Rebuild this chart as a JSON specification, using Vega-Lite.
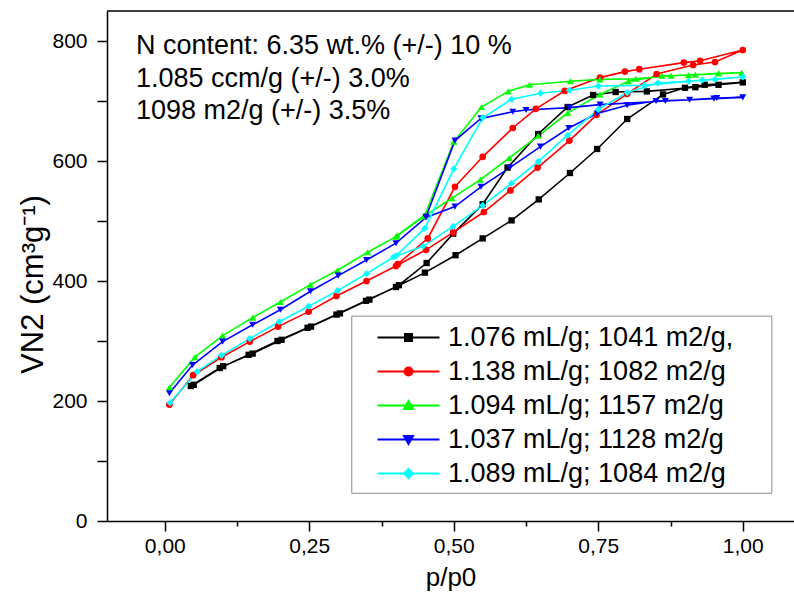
{
  "$schema": "https://vega.github.io/schema/vega-lite/v6.json",
  "width": 687,
  "height": 510,
  "autosize": {"type": "none"},
  "padding": {"left": 107, "top": 11, "right": 0, "bottom": 71},
  "background": "white",
  "config": {"view": {"stroke": null}, "font": "Liberation Sans"},
  "datasets": {
    "iso": [
      {"s": "1.076 mL/g; 1041 m2/g,", "i": 1, "p": 0.045, "v": 225},
      {"s": "1.076 mL/g; 1041 m2/g,", "i": 2, "p": 0.095, "v": 255},
      {"s": "1.076 mL/g; 1041 m2/g,", "i": 3, "p": 0.145, "v": 277},
      {"s": "1.076 mL/g; 1041 m2/g,", "i": 4, "p": 0.195, "v": 300},
      {"s": "1.076 mL/g; 1041 m2/g,", "i": 5, "p": 0.247, "v": 322},
      {"s": "1.076 mL/g; 1041 m2/g,", "i": 6, "p": 0.297, "v": 344},
      {"s": "1.076 mL/g; 1041 m2/g,", "i": 7, "p": 0.348, "v": 367},
      {"s": "1.076 mL/g; 1041 m2/g,", "i": 8, "p": 0.4, "v": 390},
      {"s": "1.076 mL/g; 1041 m2/g,", "i": 9, "p": 0.45, "v": 414},
      {"s": "1.076 mL/g; 1041 m2/g,", "i": 10, "p": 0.503, "v": 443},
      {"s": "1.076 mL/g; 1041 m2/g,", "i": 11, "p": 0.55, "v": 471},
      {"s": "1.076 mL/g; 1041 m2/g,", "i": 12, "p": 0.6, "v": 501},
      {"s": "1.076 mL/g; 1041 m2/g,", "i": 13, "p": 0.647, "v": 536},
      {"s": "1.076 mL/g; 1041 m2/g,", "i": 14, "p": 0.701, "v": 580},
      {"s": "1.076 mL/g; 1041 m2/g,", "i": 15, "p": 0.748, "v": 620},
      {"s": "1.076 mL/g; 1041 m2/g,", "i": 16, "p": 0.8, "v": 670},
      {"s": "1.076 mL/g; 1041 m2/g,", "i": 17, "p": 0.862, "v": 711},
      {"s": "1.076 mL/g; 1041 m2/g,", "i": 18, "p": 0.9, "v": 722},
      {"s": "1.076 mL/g; 1041 m2/g,", "i": 19, "p": 0.934, "v": 727},
      {"s": "1.076 mL/g; 1041 m2/g,", "i": 20, "p": 1.0, "v": 731},
      {"s": "1.076 mL/g; 1041 m2/g,", "i": 21, "p": 0.958, "v": 727},
      {"s": "1.076 mL/g; 1041 m2/g,", "i": 22, "p": 0.918, "v": 723},
      {"s": "1.076 mL/g; 1041 m2/g,", "i": 23, "p": 0.834, "v": 716},
      {"s": "1.076 mL/g; 1041 m2/g,", "i": 24, "p": 0.78, "v": 715},
      {"s": "1.076 mL/g; 1041 m2/g,", "i": 25, "p": 0.741, "v": 710},
      {"s": "1.076 mL/g; 1041 m2/g,", "i": 26, "p": 0.697, "v": 690},
      {"s": "1.076 mL/g; 1041 m2/g,", "i": 27, "p": 0.646, "v": 645},
      {"s": "1.076 mL/g; 1041 m2/g,", "i": 28, "p": 0.593, "v": 589},
      {"s": "1.076 mL/g; 1041 m2/g,", "i": 29, "p": 0.55, "v": 528},
      {"s": "1.076 mL/g; 1041 m2/g,", "i": 30, "p": 0.499, "v": 479},
      {"s": "1.076 mL/g; 1041 m2/g,", "i": 31, "p": 0.453, "v": 430},
      {"s": "1.076 mL/g; 1041 m2/g,", "i": 32, "p": 0.405, "v": 393},
      {"s": "1.076 mL/g; 1041 m2/g,", "i": 33, "p": 0.354, "v": 369},
      {"s": "1.076 mL/g; 1041 m2/g,", "i": 34, "p": 0.303, "v": 346},
      {"s": "1.076 mL/g; 1041 m2/g,", "i": 35, "p": 0.253, "v": 324},
      {"s": "1.076 mL/g; 1041 m2/g,", "i": 36, "p": 0.202, "v": 302},
      {"s": "1.076 mL/g; 1041 m2/g,", "i": 37, "p": 0.152, "v": 279},
      {"s": "1.076 mL/g; 1041 m2/g,", "i": 38, "p": 0.101, "v": 258},
      {"s": "1.076 mL/g; 1041 m2/g,", "i": 39, "p": 0.05, "v": 227},

      {"s": "1.138 mL/g; 1082 m2/g", "i": 1, "p": 0.008, "v": 194},
      {"s": "1.138 mL/g; 1082 m2/g", "i": 2, "p": 0.049, "v": 243},
      {"s": "1.138 mL/g; 1082 m2/g", "i": 3, "p": 0.098, "v": 273},
      {"s": "1.138 mL/g; 1082 m2/g", "i": 4, "p": 0.147, "v": 299},
      {"s": "1.138 mL/g; 1082 m2/g", "i": 5, "p": 0.196, "v": 324},
      {"s": "1.138 mL/g; 1082 m2/g", "i": 6, "p": 0.249, "v": 349},
      {"s": "1.138 mL/g; 1082 m2/g", "i": 7, "p": 0.297, "v": 375},
      {"s": "1.138 mL/g; 1082 m2/g", "i": 8, "p": 0.349, "v": 400},
      {"s": "1.138 mL/g; 1082 m2/g", "i": 9, "p": 0.4, "v": 425},
      {"s": "1.138 mL/g; 1082 m2/g", "i": 10, "p": 0.452, "v": 452},
      {"s": "1.138 mL/g; 1082 m2/g", "i": 11, "p": 0.499, "v": 481},
      {"s": "1.138 mL/g; 1082 m2/g", "i": 12, "p": 0.552, "v": 515},
      {"s": "1.138 mL/g; 1082 m2/g", "i": 13, "p": 0.598, "v": 551},
      {"s": "1.138 mL/g; 1082 m2/g", "i": 14, "p": 0.645, "v": 589},
      {"s": "1.138 mL/g; 1082 m2/g", "i": 15, "p": 0.7, "v": 634},
      {"s": "1.138 mL/g; 1082 m2/g", "i": 16, "p": 0.747, "v": 677},
      {"s": "1.138 mL/g; 1082 m2/g", "i": 17, "p": 0.8, "v": 712},
      {"s": "1.138 mL/g; 1082 m2/g", "i": 18, "p": 0.851, "v": 745},
      {"s": "1.138 mL/g; 1082 m2/g", "i": 19, "p": 0.914, "v": 760},
      {"s": "1.138 mL/g; 1082 m2/g", "i": 20, "p": 0.952, "v": 765},
      {"s": "1.138 mL/g; 1082 m2/g", "i": 21, "p": 1.0, "v": 785},
      {"s": "1.138 mL/g; 1082 m2/g", "i": 22, "p": 0.926, "v": 767},
      {"s": "1.138 mL/g; 1082 m2/g", "i": 23, "p": 0.898, "v": 764},
      {"s": "1.138 mL/g; 1082 m2/g", "i": 24, "p": 0.821, "v": 753},
      {"s": "1.138 mL/g; 1082 m2/g", "i": 25, "p": 0.796, "v": 749},
      {"s": "1.138 mL/g; 1082 m2/g", "i": 26, "p": 0.753, "v": 739},
      {"s": "1.138 mL/g; 1082 m2/g", "i": 27, "p": 0.692, "v": 717},
      {"s": "1.138 mL/g; 1082 m2/g", "i": 28, "p": 0.642, "v": 687},
      {"s": "1.138 mL/g; 1082 m2/g", "i": 29, "p": 0.602, "v": 655},
      {"s": "1.138 mL/g; 1082 m2/g", "i": 30, "p": 0.55, "v": 607},
      {"s": "1.138 mL/g; 1082 m2/g", "i": 31, "p": 0.502, "v": 557},
      {"s": "1.138 mL/g; 1082 m2/g", "i": 32, "p": 0.455, "v": 471},
      {"s": "1.138 mL/g; 1082 m2/g", "i": 33, "p": 0.403, "v": 428},

      {"s": "1.094 mL/g; 1157 m2/g", "i": 1, "p": 0.008, "v": 223},
      {"s": "1.094 mL/g; 1157 m2/g", "i": 2, "p": 0.052, "v": 273},
      {"s": "1.094 mL/g; 1157 m2/g", "i": 3, "p": 0.1, "v": 309},
      {"s": "1.094 mL/g; 1157 m2/g", "i": 4, "p": 0.152, "v": 339},
      {"s": "1.094 mL/g; 1157 m2/g", "i": 5, "p": 0.2, "v": 365},
      {"s": "1.094 mL/g; 1157 m2/g", "i": 6, "p": 0.252, "v": 394},
      {"s": "1.094 mL/g; 1157 m2/g", "i": 7, "p": 0.299, "v": 418},
      {"s": "1.094 mL/g; 1157 m2/g", "i": 8, "p": 0.351, "v": 448},
      {"s": "1.094 mL/g; 1157 m2/g", "i": 9, "p": 0.4, "v": 474},
      {"s": "1.094 mL/g; 1157 m2/g", "i": 10, "p": 0.449, "v": 508},
      {"s": "1.094 mL/g; 1157 m2/g", "i": 11, "p": 0.497, "v": 538},
      {"s": "1.094 mL/g; 1157 m2/g", "i": 12, "p": 0.546, "v": 569},
      {"s": "1.094 mL/g; 1157 m2/g", "i": 13, "p": 0.596, "v": 605},
      {"s": "1.094 mL/g; 1157 m2/g", "i": 14, "p": 0.646, "v": 642},
      {"s": "1.094 mL/g; 1157 m2/g", "i": 15, "p": 0.697, "v": 680},
      {"s": "1.094 mL/g; 1157 m2/g", "i": 16, "p": 0.753, "v": 711},
      {"s": "1.094 mL/g; 1157 m2/g", "i": 17, "p": 0.802, "v": 733},
      {"s": "1.094 mL/g; 1157 m2/g", "i": 18, "p": 0.86, "v": 742},
      {"s": "1.094 mL/g; 1157 m2/g", "i": 19, "p": 0.906, "v": 743},
      {"s": "1.094 mL/g; 1157 m2/g", "i": 20, "p": 0.958, "v": 746},
      {"s": "1.094 mL/g; 1157 m2/g", "i": 21, "p": 0.998, "v": 747},
      {"s": "1.094 mL/g; 1157 m2/g", "i": 22, "p": 0.918, "v": 744},
      {"s": "1.094 mL/g; 1157 m2/g", "i": 23, "p": 0.876, "v": 742},
      {"s": "1.094 mL/g; 1157 m2/g", "i": 24, "p": 0.815, "v": 737},
      {"s": "1.094 mL/g; 1157 m2/g", "i": 25, "p": 0.753, "v": 736},
      {"s": "1.094 mL/g; 1157 m2/g", "i": 26, "p": 0.702, "v": 733},
      {"s": "1.094 mL/g; 1157 m2/g", "i": 27, "p": 0.631, "v": 727},
      {"s": "1.094 mL/g; 1157 m2/g", "i": 28, "p": 0.594, "v": 716},
      {"s": "1.094 mL/g; 1157 m2/g", "i": 29, "p": 0.548, "v": 690},
      {"s": "1.094 mL/g; 1157 m2/g", "i": 30, "p": 0.5, "v": 632},
      {"s": "1.094 mL/g; 1157 m2/g", "i": 31, "p": 0.45, "v": 510},
      {"s": "1.094 mL/g; 1157 m2/g", "i": 32, "p": 0.402, "v": 476},

      {"s": "1.037 mL/g; 1128 m2/g", "i": 1, "p": 0.008, "v": 213},
      {"s": "1.037 mL/g; 1128 m2/g", "i": 2, "p": 0.048, "v": 260},
      {"s": "1.037 mL/g; 1128 m2/g", "i": 3, "p": 0.1, "v": 299},
      {"s": "1.037 mL/g; 1128 m2/g", "i": 4, "p": 0.152, "v": 327},
      {"s": "1.037 mL/g; 1128 m2/g", "i": 5, "p": 0.2, "v": 352},
      {"s": "1.037 mL/g; 1128 m2/g", "i": 6, "p": 0.252, "v": 383},
      {"s": "1.037 mL/g; 1128 m2/g", "i": 7, "p": 0.3, "v": 409},
      {"s": "1.037 mL/g; 1128 m2/g", "i": 8, "p": 0.349, "v": 435},
      {"s": "1.037 mL/g; 1128 m2/g", "i": 9, "p": 0.4, "v": 463},
      {"s": "1.037 mL/g; 1128 m2/g", "i": 10, "p": 0.452, "v": 506},
      {"s": "1.037 mL/g; 1128 m2/g", "i": 11, "p": 0.502, "v": 524},
      {"s": "1.037 mL/g; 1128 m2/g", "i": 12, "p": 0.547, "v": 557},
      {"s": "1.037 mL/g; 1128 m2/g", "i": 13, "p": 0.597, "v": 589},
      {"s": "1.037 mL/g; 1128 m2/g", "i": 14, "p": 0.65, "v": 624},
      {"s": "1.037 mL/g; 1128 m2/g", "i": 15, "p": 0.699, "v": 655},
      {"s": "1.037 mL/g; 1128 m2/g", "i": 16, "p": 0.748, "v": 679},
      {"s": "1.037 mL/g; 1128 m2/g", "i": 17, "p": 0.8, "v": 693},
      {"s": "1.037 mL/g; 1128 m2/g", "i": 18, "p": 0.85, "v": 700},
      {"s": "1.037 mL/g; 1128 m2/g", "i": 19, "p": 0.908, "v": 702},
      {"s": "1.037 mL/g; 1128 m2/g", "i": 20, "p": 0.955, "v": 705},
      {"s": "1.037 mL/g; 1128 m2/g", "i": 21, "p": 1.0, "v": 706},
      {"s": "1.037 mL/g; 1128 m2/g", "i": 22, "p": 0.95, "v": 704},
      {"s": "1.037 mL/g; 1128 m2/g", "i": 23, "p": 0.866, "v": 700},
      {"s": "1.037 mL/g; 1128 m2/g", "i": 24, "p": 0.753, "v": 694},
      {"s": "1.037 mL/g; 1128 m2/g", "i": 25, "p": 0.7, "v": 689},
      {"s": "1.037 mL/g; 1128 m2/g", "i": 26, "p": 0.625, "v": 685},
      {"s": "1.037 mL/g; 1128 m2/g", "i": 27, "p": 0.602, "v": 682},
      {"s": "1.037 mL/g; 1128 m2/g", "i": 28, "p": 0.547, "v": 671},
      {"s": "1.037 mL/g; 1128 m2/g", "i": 29, "p": 0.502, "v": 634},
      {"s": "1.037 mL/g; 1128 m2/g", "i": 30, "p": 0.452, "v": 507},

      {"s": "1.089 mL/g; 1084 m2/g", "i": 1, "p": 0.009, "v": 197},
      {"s": "1.089 mL/g; 1084 m2/g", "i": 2, "p": 0.056, "v": 249},
      {"s": "1.089 mL/g; 1084 m2/g", "i": 3, "p": 0.098, "v": 276},
      {"s": "1.089 mL/g; 1084 m2/g", "i": 4, "p": 0.147, "v": 304},
      {"s": "1.089 mL/g; 1084 m2/g", "i": 5, "p": 0.198, "v": 332},
      {"s": "1.089 mL/g; 1084 m2/g", "i": 6, "p": 0.249, "v": 358},
      {"s": "1.089 mL/g; 1084 m2/g", "i": 7, "p": 0.299, "v": 384},
      {"s": "1.089 mL/g; 1084 m2/g", "i": 8, "p": 0.349, "v": 412},
      {"s": "1.089 mL/g; 1084 m2/g", "i": 9, "p": 0.396, "v": 440},
      {"s": "1.089 mL/g; 1084 m2/g", "i": 10, "p": 0.447, "v": 458},
      {"s": "1.089 mL/g; 1084 m2/g", "i": 11, "p": 0.499, "v": 491},
      {"s": "1.089 mL/g; 1084 m2/g", "i": 12, "p": 0.55, "v": 526},
      {"s": "1.089 mL/g; 1084 m2/g", "i": 13, "p": 0.6, "v": 563},
      {"s": "1.089 mL/g; 1084 m2/g", "i": 14, "p": 0.646, "v": 599},
      {"s": "1.089 mL/g; 1084 m2/g", "i": 15, "p": 0.697, "v": 643},
      {"s": "1.089 mL/g; 1084 m2/g", "i": 16, "p": 0.75, "v": 686},
      {"s": "1.089 mL/g; 1084 m2/g", "i": 17, "p": 0.8, "v": 714},
      {"s": "1.089 mL/g; 1084 m2/g", "i": 18, "p": 0.853, "v": 730},
      {"s": "1.089 mL/g; 1084 m2/g", "i": 19, "p": 0.906, "v": 733},
      {"s": "1.089 mL/g; 1084 m2/g", "i": 20, "p": 0.952, "v": 736},
      {"s": "1.089 mL/g; 1084 m2/g", "i": 21, "p": 1.0, "v": 740},
      {"s": "1.089 mL/g; 1084 m2/g", "i": 22, "p": 0.93, "v": 735},
      {"s": "1.089 mL/g; 1084 m2/g", "i": 23, "p": 0.83, "v": 726},
      {"s": "1.089 mL/g; 1084 m2/g", "i": 24, "p": 0.75, "v": 725},
      {"s": "1.089 mL/g; 1084 m2/g", "i": 25, "p": 0.7, "v": 718},
      {"s": "1.089 mL/g; 1084 m2/g", "i": 26, "p": 0.65, "v": 713},
      {"s": "1.089 mL/g; 1084 m2/g", "i": 27, "p": 0.6, "v": 703},
      {"s": "1.089 mL/g; 1084 m2/g", "i": 28, "p": 0.55, "v": 672},
      {"s": "1.089 mL/g; 1084 m2/g", "i": 29, "p": 0.5, "v": 587},
      {"s": "1.089 mL/g; 1084 m2/g", "i": 30, "p": 0.45, "v": 488},
      {"s": "1.089 mL/g; 1084 m2/g", "i": 31, "p": 0.4, "v": 442}
    ]
  },
  "layer": [
    {
      "data": {"values": [{}]},
      "mark": {"type": "rect", "fill": "white", "stroke": "#8a8a8a", "strokeWidth": 1},
      "encoding": {
        "x": {"datum": 0.3235, "type": "quantitative"},
        "x2": {"datum": 1.0502},
        "y": {"datum": 341.4, "type": "quantitative"},
        "y2": {"datum": 46.2}
      }
    },
    {
      "data": {"values": [{}]},
      "mark": {"type": "rule", "color": "black", "strokeWidth": 1.5},
      "encoding": {"y": {"datum": 850, "type": "quantitative"}}
    },
    {
      "data": {"name": "iso"},
      "mark": {"type": "line", "strokeWidth": 1.6, "clip": true},
      "encoding": {
        "x": {
          "field": "p", "type": "quantitative",
          "scale": {"domain": [-0.1, 1.0886], "nice": false, "zero": false},
          "axis": {
            "title": "p/p0",
            "values": [0, 0.125, 0.25, 0.375, 0.5, 0.625, 0.75, 0.875, 1.0],
            "labelExpr": "abs(datum.value*4 - round(datum.value*4)) < 0.01 ? replace(format(datum.value, '.2f'), '.', ',') : ''",
            "tickSize": {"condition": {"test": "abs(datum.value*4 - round(datum.value*4)) < 0.01", "value": 10}, "value": 5},
            "grid": false,
            "domainColor": "black", "domainWidth": 1.5,
            "tickColor": "black", "tickWidth": 1.5,
            "labelFont": "Liberation Sans", "labelFontSize": 21, "labelColor": "black", "labelPadding": 4,
            "labelFlush": false, "labelOverlap": false,
            "titleFont": "Liberation Sans", "titleFontSize": 26, "titleFontWeight": "normal", "titleColor": "black", "titlePadding": 8
          }
        },
        "y": {
          "field": "v", "type": "quantitative",
          "scale": {"domain": [0, 850], "nice": false},
          "axis": {
            "title": "VN2 (cm³g⁻¹)",
            "values": [0, 100, 200, 300, 400, 500, 600, 700, 800],
            "labelExpr": "datum.value % 200 == 0 ? datum.label : ''",
            "tickSize": 10,
            "grid": false,
            "domainColor": "black", "domainWidth": 1.5,
            "tickColor": "black", "tickWidth": 1.5,
            "labelFont": "Liberation Sans", "labelFontSize": 21, "labelColor": "black", "labelPadding": 10,
            "labelFlush": false, "labelOverlap": false,
            "titleFont": "Liberation Sans", "titleFontSize": 31, "titleFontWeight": "normal", "titleColor": "black", "titlePadding": 2,
            "titleY": 273
          }
        },
        "color": {
          "field": "s", "type": "nominal",
          "scale": {
            "domain": ["1.076 mL/g; 1041 m2/g,", "1.138 mL/g; 1082 m2/g", "1.094 mL/g; 1157 m2/g", "1.037 mL/g; 1128 m2/g", "1.089 mL/g; 1084 m2/g"],
            "range": ["#000000", "#ff0000", "#00ff00", "#0000ff", "#00ffff"]
          },
          "legend": {
            "orient": "none", "legendX": 245, "legendY": 305,
            "title": null,
            "fillColor": null, "strokeColor": null,
            "padding": 8,
            "symbolOffset": 35,
            "labelOffset": 26,
            "rowPadding": 6,
            "symbolSize": 100,
            "symbolStrokeWidth": 2,
            "labelFont": "Liberation Sans", "labelFontSize": 27, "labelColor": "black", "labelLimit": 600,
            "encode": {
              "symbols": {
                "update": {
                  "shape": {"signal": "datum.index == 0 ? 'M-6.2,0H6.2M-0.7,-0.7H0.7V0.7H-0.7Z' : datum.index == 1 ? 'M-6.2,0H6.2M-0.8,0A0.8,0.8,0,1,0,0.8,0A0.8,0.8,0,1,0,-0.8,0Z' : datum.index == 2 ? 'M-6.2,0H6.2M0,-0.9L0.9,0.7L-0.9,0.7Z' : datum.index == 3 ? 'M-6.2,0H6.2M0,0.9L0.9,-0.7L-0.9,-0.7Z' : 'M-6.2,0H6.2M0,-0.9L0.9,0L0,0.9L-0.9,0Z'"},
                  "stroke": {"signal": "['#000000','#ff0000','#00ff00','#0000ff','#00ffff'][datum.index]"},
                  "fill": {"signal": "['#000000','#ff0000','#00ff00','#0000ff','#00ffff'][datum.index]"},
                  "strokeWidth": {"value": 2},
                  "opacity": {"value": 1}
                }
              }
            }
          }
        },
        "order": {"field": "i", "type": "quantitative"}
      }
    },
    {
      "data": {"name": "iso"},
      "transform": [{"filter": {"field": "s", "equal": "1.076 mL/g; 1041 m2/g,"}}],
      "mark": {"type": "point", "shape": "square", "filled": true, "color": "#000000", "opacity": 1, "size": 40, "strokeWidth": 0},
      "encoding": {"x": {"field": "p", "type": "quantitative"}, "y": {"field": "v", "type": "quantitative"}}
    },
    {
      "data": {"name": "iso"},
      "transform": [{"filter": {"field": "s", "equal": "1.138 mL/g; 1082 m2/g"}}],
      "mark": {"type": "point", "shape": "circle", "filled": true, "color": "#ff0000", "opacity": 1, "size": 45, "strokeWidth": 0},
      "encoding": {"x": {"field": "p", "type": "quantitative"}, "y": {"field": "v", "type": "quantitative"}}
    },
    {
      "data": {"name": "iso"},
      "transform": [{"filter": {"field": "s", "equal": "1.094 mL/g; 1157 m2/g"}}],
      "mark": {"type": "point", "shape": "triangle-up", "filled": true, "color": "#00ff00", "opacity": 1, "size": 50, "strokeWidth": 0},
      "encoding": {"x": {"field": "p", "type": "quantitative"}, "y": {"field": "v", "type": "quantitative"}}
    },
    {
      "data": {"name": "iso"},
      "transform": [{"filter": {"field": "s", "equal": "1.037 mL/g; 1128 m2/g"}}],
      "mark": {"type": "point", "shape": "triangle-down", "filled": true, "color": "#0000ff", "opacity": 1, "size": 50, "strokeWidth": 0},
      "encoding": {"x": {"field": "p", "type": "quantitative"}, "y": {"field": "v", "type": "quantitative"}}
    },
    {
      "data": {"name": "iso"},
      "transform": [{"filter": {"field": "s", "equal": "1.089 mL/g; 1084 m2/g"}}],
      "mark": {"type": "point", "shape": "diamond", "filled": true, "color": "#00ffff", "opacity": 1, "size": 50, "strokeWidth": 0},
      "encoding": {"x": {"field": "p", "type": "quantitative"}, "y": {"field": "v", "type": "quantitative"}}
    },
    {
      "data": {"values": [{}]},
      "mark": {
        "type": "text",
        "text": ["N content: 6.35 wt.% (+/-) 10 %", "1.085 ccm/g (+/-) 3.0%", "1098 m2/g (+/-) 3.5%"],
        "align": "left", "baseline": "alphabetic",
        "font": "Liberation Sans", "fontSize": 27, "lineHeight": 32.5, "color": "black"
      },
      "encoding": {
        "x": {"datum": -0.05, "type": "quantitative"},
        "y": {"datum": 778, "type": "quantitative"}
      }
    }
  ]
}
